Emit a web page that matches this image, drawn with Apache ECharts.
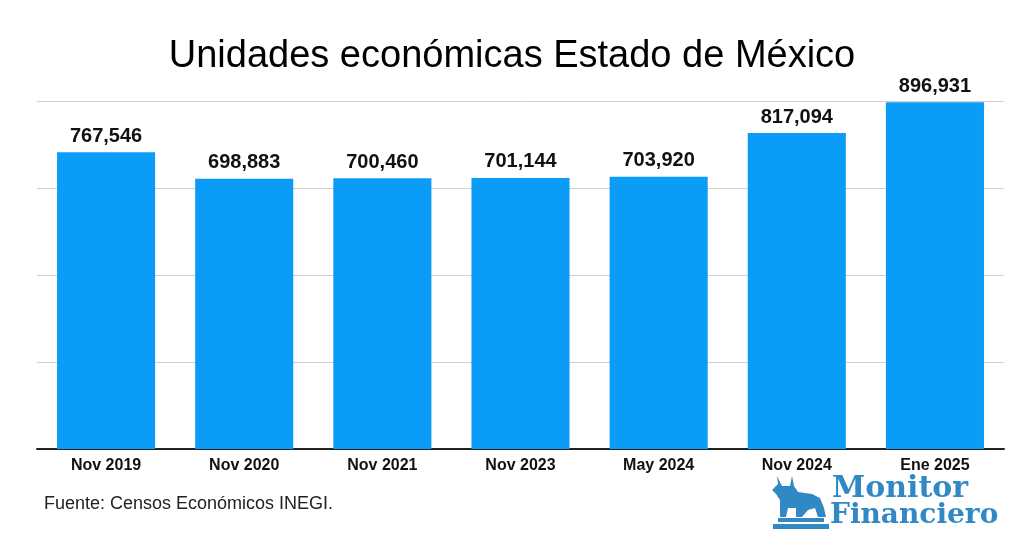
<!DOCTYPE html>
<html><head><meta charset="utf-8">
<script src="https://cdn.jsdelivr.net/npm/echarts@6/dist/echarts.min.js"></script>
<style>html,body{margin:0;padding:0;background:#fff}#c{width:1024px;height:554px}</style>
</head><body><div id="c"></div>
<script>
const categories = ['Nov 2019','Nov 2020','Nov 2021','Nov 2023','May 2024','Nov 2024','Ene 2025'];
const values = [767546, 698883, 700460, 701144, 703920, 817094, 896931];
const titleText = 'Unidades económicas Estado de México';
const sourceText = 'Fuente: Censos Económicos INEGI.';
const logoLines = ['Monitor', 'Financiero'];

const chart = echarts.init(document.getElementById('c'));
const fmt = v => v.toLocaleString('en-US');
const logoColor = '#3089c4';
chart.setOption({
  animation: false,
  title: { text: titleText, left: 'center', top: 33,
    textStyle: { fontFamily: 'Liberation Sans', fontSize: 38, fontWeight: 'normal', color: '#000' } },
  grid: { left: 37, right: 20, top: 101, bottom: 105 },
  xAxis: { type: 'category', data: categories,
    axisLine: { lineStyle: { color: '#222', width: 2 } }, axisTick: { show: false },
    axisLabel: { fontFamily: 'Liberation Sans', fontWeight: 'bold', fontSize: 16, color: '#111', margin: 9 } },
  yAxis: { type: 'value', min: 0, max: 900000, interval: 225000,
    axisLabel: { show: false }, axisLine: { show: false }, axisTick: { show: false },
    splitLine: { lineStyle: { color: '#d0d0d0', width: 1 } } },
  series: [{ type: 'bar', data: values, barWidth: '71%',
    itemStyle: { color: '#0a9cf6' },
    label: { show: true, position: 'top', distance: 6, formatter: p => fmt(p.value),
      fontFamily: 'Liberation Sans', fontWeight: 'bold', fontSize: 20, color: '#111' } }],
  graphic: [
    { type: 'text', left: 44, top: 495, style: { text: sourceText, fontFamily: 'Liberation Sans', fontSize: 18, fill: '#222' } },
    { type: 'text', left: 832, top: 474, style: { text: logoLines[0], fontFamily: 'DejaVu Serif', fontWeight: 'bold', fontSize: 30, fill: logoColor } },
    { type: 'text', left: 830, top: 502, style: { text: logoLines[1], fontFamily: 'DejaVu Serif', fontWeight: 'bold', fontSize: 28, fill: logoColor } },
    { type: 'rect', shape: { x: 773, y: 524, width: 56, height: 5 }, style: { fill: logoColor } },
    { type: 'rect', shape: { x: 778, y: 518, width: 46, height: 4 }, style: { fill: logoColor } },
    { type: 'polygon', shape: { points: [[780,517],[780,500],[776,494],[772,490],[778,484],[777,476],[782,486],[790,486],[792,476],[794,486],[798,492],[812,494],[820,498],[824,508],[826,517],[818,517],[815,508],[808,510],[802,517],[796,517],[796,508],[788,508],[786,517]] }, style: { fill: logoColor } }
  ]
});
</script></body></html>
